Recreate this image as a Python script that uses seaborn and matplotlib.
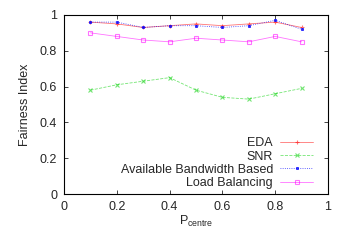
import matplotlib
matplotlib.use('Agg')
import matplotlib.pyplot as plt
import seaborn as sns
import pandas as pd

p_centre = [0.1, 0.2, 0.3, 0.4, 0.5, 0.6, 0.7, 0.8, 0.9]
eda = [0.96, 0.95, 0.93, 0.94, 0.95, 0.94, 0.95, 0.96, 0.93]
snr = [0.58, 0.61, 0.63, 0.65, 0.58, 0.54, 0.53, 0.56, 0.59]
abb = [0.96, 0.96, 0.93, 0.94, 0.94, 0.93, 0.94, 0.97, 0.92]
load_bal = [0.90, 0.88, 0.86, 0.85, 0.87, 0.86, 0.85, 0.88, 0.85]

series = [
    ('EDA', eda, '#ff0000', '-', '+', 'none'),
    ('SNR', snr, '#00d000', '--', 'x', 'none'),
    ('Available Bandwidth Based', abb, '#0000ff', ':', 's', 'fill'),
    ('Load Balancing', load_bal, '#ff00ff', '-', 's', 'open'),
]

sns.set_style('ticks')
plt.rcParams['font.family'] = ['Liberation Sans', 'DejaVu Sans']
plt.rcParams['font.size'] = 9
plt.rcParams['mathtext.fontset'] = 'custom'
plt.rcParams['mathtext.rm'] = 'Liberation Sans'
plt.rcParams['mathtext.it'] = 'Liberation Sans:italic'

fig, ax = plt.subplots(figsize=(3.5, 2.45), dpi=100)
fig.subplots_adjust(left=0.183, right=0.937, top=0.939, bottom=0.208)

for name, vals, col, ls, mk, fill in series:
    df = pd.DataFrame({'x': p_centre, 'y': vals})
    kw = dict(marker=mk, markersize=3.5, markeredgewidth=0.8, markeredgecolor=col)
    if fill == 'open':
        kw['markerfacecolor'] = 'none'
    elif fill == 'fill':
        kw['markersize'] = 1.8
        kw['markeredgewidth'] = 0.6
        kw['markerfacecolor'] = col
    sns.lineplot(data=df, x='x', y='y', ax=ax, color=col, linestyle=ls,
                 linewidth=0.6, alpha=0.55 if fill != 'fill' else 0.8,
                 label=name, **kw)

ax.set_xlim(0, 1)
ax.set_ylim(0, 1)
ax.set_xticks([0, 0.2, 0.4, 0.6, 0.8, 1])
ax.set_xticklabels(['0', '0.2', '0.4', '0.6', '0.8', '1'])
ax.set_yticks([0, 0.2, 0.4, 0.6, 0.8, 1])
ax.set_yticklabels(['0', '0.2', '0.4', '0.6', '0.8', '1'])
ax.tick_params(direction='in', top=True, right=True, length=3, width=0.6, labelsize=9, pad=5)
for s in ax.spines.values():
    s.set_linewidth(0.8)
    s.set_color('black')
ax.set_xlabel(r'P$_{\mathrm{centre}}$', fontsize=9, labelpad=1)
ax.set_ylabel('Fairness Index', fontsize=9, labelpad=6)

leg = ax.legend(loc='lower right', bbox_to_anchor=(0.962, 0.0), frameon=False,
                markerfirst=False, fontsize=9,
                handlelength=2.6, handletextpad=0.6, labelspacing=0.1,
                borderaxespad=0.2, borderpad=0.2)

fig.savefig('out.png', dpi=100)
